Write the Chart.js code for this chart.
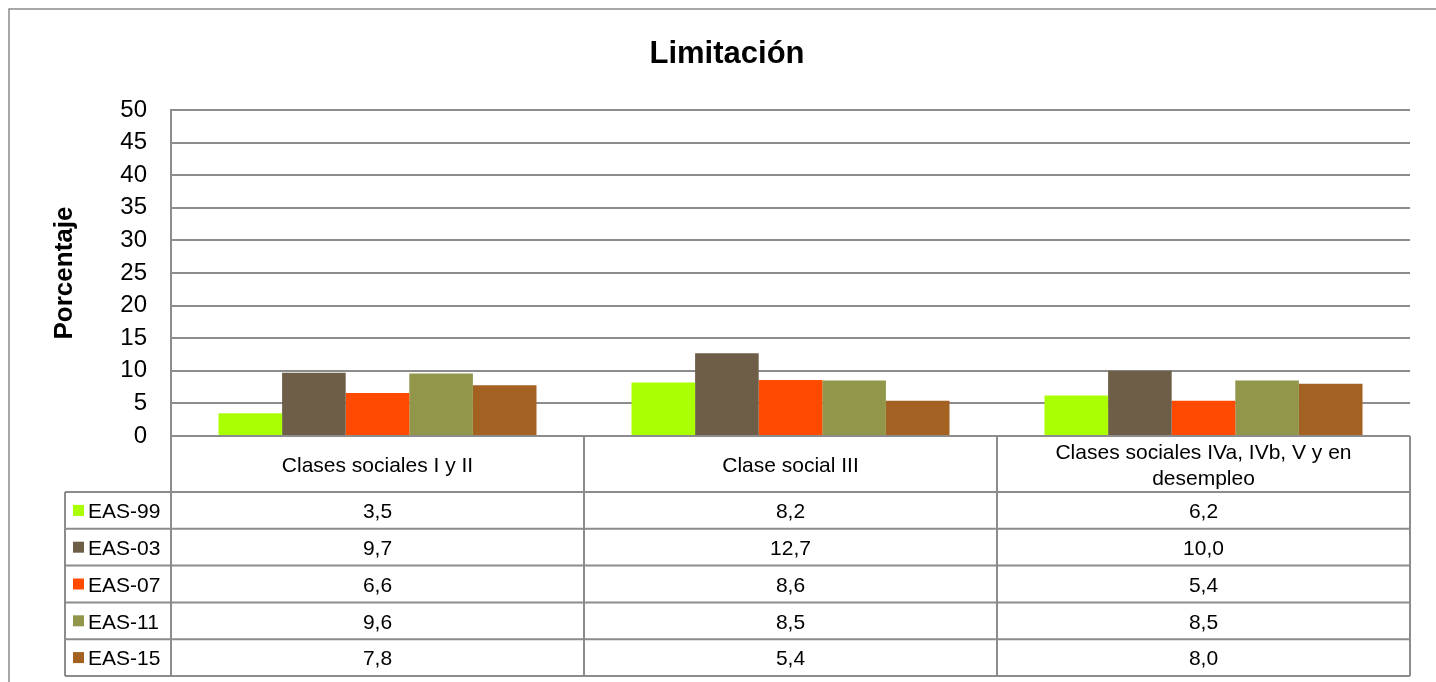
<!DOCTYPE html>
<html>
<head>
<meta charset="utf-8">
<script src="https://cdn.jsdelivr.net/npm/chart.js@4/dist/chart.umd.min.js"></script>
<style>
  html, body { margin: 0; padding: 0; background: #ffffff; }
  canvas { display: block; }
</style>
</head>
<body>
<canvas id="c" width="1436" height="682"></canvas>
<script>
// ---- data ----
const chartTitle = "Limitación";
const yAxisTitle = "Porcentaje";
const categories = ["Clases sociales I y II", "Clase social III", ["Clases sociales IVa, IVb, V y en", "desempleo"]];
const seriesNames = ["EAS-99", "EAS-03", "EAS-07", "EAS-11", "EAS-15"];
const eas99 = [3.5, 8.2, 6.2];
const eas03 = [9.7, 12.7, 10.0];
const eas07 = [6.6, 8.6, 5.4];
const eas11 = [9.6, 8.5, 8.5];
const eas15 = [7.8, 5.4, 8.0];
const seriesColors = ["#aaff00", "#6e5e48", "#ff4a00", "#91964a", "#a36122"];
const yTicks = [0, 5, 10, 15, 20, 25, 30, 35, 40, 45, 50];

const seriesValues = [eas99, eas03, eas07, eas11, eas15];
const FONT = '"Liberation Sans", Arial, sans-serif';
const GRID = "#8c8c8c";

const tablePlugin = {
  id: "tablePlugin",
  afterDraw(chart) {
    const ctx = chart.ctx;
    const xs = chart.scales.x;
    const area = chart.chartArea;
    const n = chart.data.labels.length;
    const catW = (area.right - area.left) / n;
    const headerTop = area.bottom;
    const headerH = 56;
    const rowH = 36.8;
    const legendLeft = 65;
    const rowsTop = headerTop + headerH;
    const tableBottom = rowsTop + rowH * seriesNames.length;

    ctx.save();
    // outer chart frame
    ctx.strokeStyle = "#8c8c8c";
    ctx.lineWidth = 1.5;
    ctx.strokeRect(9, 9, 1500, 800);

    // title
    ctx.fillStyle = "#000";
    ctx.font = "bold 31px " + FONT;
    ctx.textAlign = "center";
    ctx.textBaseline = "alphabetic";
    ctx.fillText(chartTitle, 727, 63);

    // y-axis title
    ctx.save();
    ctx.translate(72, 273);
    ctx.rotate(-Math.PI / 2);
    ctx.font = "bold 26px " + FONT;
    ctx.fillText(yAxisTitle, 0, 0);
    ctx.restore();

    // table lines
    ctx.strokeStyle = GRID;
    ctx.lineWidth = 2;
    ctx.beginPath();
    ctx.moveTo(area.left, headerTop); ctx.lineTo(area.right, headerTop);
    for (let r = 0; r <= seriesNames.length; r++) {
      const y = rowsTop + r * rowH;
      ctx.moveTo(legendLeft, y); ctx.lineTo(area.right, y);
    }
    ctx.moveTo(legendLeft, rowsTop); ctx.lineTo(legendLeft, tableBottom);
    for (let i = 0; i <= n; i++) {
      const x = area.left + i * catW;
      ctx.moveTo(x, headerTop); ctx.lineTo(x, tableBottom);
    }
    ctx.stroke();

    // header labels
    ctx.fillStyle = "#000";
    ctx.font = "21px " + FONT;
    ctx.textAlign = "center";
    ctx.textBaseline = "middle";
    chart.data.labels.forEach((lab, i) => {
      const cx = xs.getPixelForValue(i);
      const lines = Array.isArray(lab) ? lab : [lab];
      const lh = 26;
      const startY = headerTop + headerH / 2 + 2 - (lines.length - 1) * lh / 2;
      lines.forEach((ln, k) => ctx.fillText(ln, cx, startY + k * lh));
    });

    // rows
    chart.data.datasets.forEach((ds, r) => {
      const cy = rowsTop + r * rowH + rowH / 2;
      ctx.fillStyle = ds.backgroundColor;
      ctx.fillRect(73, cy - 5.5, 11, 11);
      ctx.fillStyle = "#000";
      ctx.textAlign = "left";
      ctx.fillText(ds.label, 88, cy + 2);
      ctx.textAlign = "center";
      ds.data.forEach((v, i) => {
        const cx = xs.getPixelForValue(i);
        ctx.fillText(v.toFixed(1).replace(".", ","), cx, cy + 2);
      });
    });
    ctx.restore();
  }
};

new Chart(document.getElementById("c"), {
  type: "bar",
  data: {
    labels: categories,
    datasets: seriesNames.map((name, i) => ({
      label: name,
      data: seriesValues[i],
      backgroundColor: seriesColors[i],
      borderWidth: 0,
      categoryPercentage: 0.77,
      barPercentage: 1.0
    }))
  },
  options: {
    responsive: false,
    animation: false,
    layout: { padding: { top: 110, right: 26, bottom: 246, left: 0 } },
    plugins: {
      legend: { display: false },
      title: { display: false },
      tooltip: { enabled: false }
    },
    scales: {
      x: { display: false },
      y: {
        min: 0,
        max: 50,
        afterBuildTicks: (s) => { s.ticks = yTicks.map(v => ({ value: v })); },
        afterFit: (s) => { s.width = 171; },
        grid: { color: GRID, lineWidth: 2, drawTicks: false },
        border: { display: true, color: GRID, width: 2 },
        ticks: {
          color: "#000",
          padding: 24,
          font: { family: FONT, size: 24 }
        }
      }
    }
  },
  plugins: [tablePlugin]
});
</script>
</body>
</html>
